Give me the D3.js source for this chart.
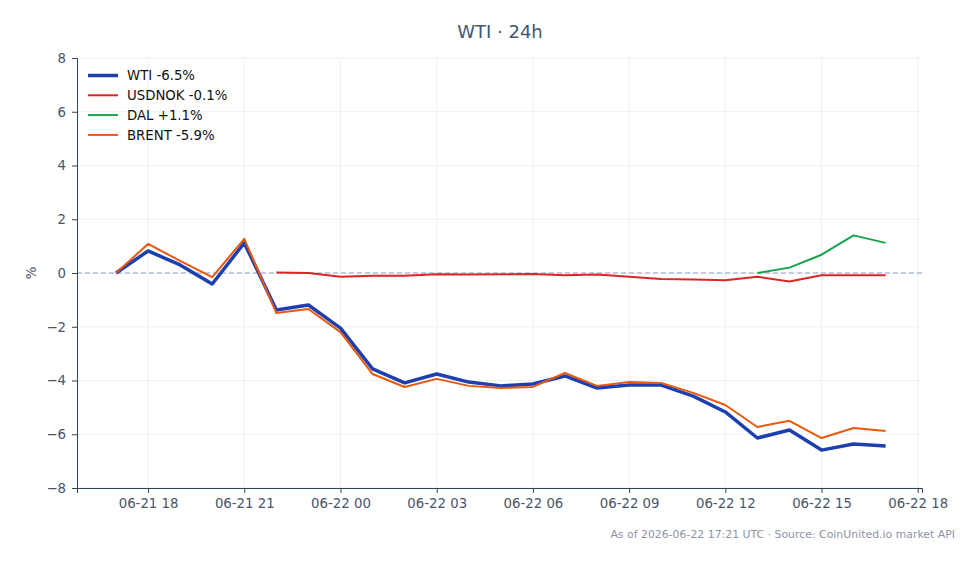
<!DOCTYPE html>
<html>
<head>
<meta charset="utf-8">
<script src="https://cdn.jsdelivr.net/npm/d3@7"></script>
<style>
  body { margin: 0; background: #fff; }
  svg text { font-family: "DejaVu Sans", sans-serif; }
</style>
</head>
<body>
<svg id="chart" width="979" height="564"></svg>
<script>
// Hourly points, 06-21 17:00 -> 06-22 17:00 (UTC)
const hours = d3.range(25).map(i => new Date(Date.UTC(2026, 5, 21, 17 + i)));

const wti = [0, 0.82, 0.3, -0.41, 1.12, -1.38, -1.19, -2.05, -3.57, -4.09, -3.76, -4.06, -4.2,
    -4.13, -3.83, -4.28, -4.17, -4.17, -4.58, -5.17, -6.14, -5.84, -6.59, -6.36, -6.44];
const brent = [0, 1.08, 0.45, -0.15, 1.27, -1.49, -1.34, -2.2, -3.76, -4.24, -3.94, -4.2, -4.28,
    -4.24, -3.72, -4.2, -4.06, -4.09, -4.46, -4.91, -5.73, -5.5, -6.14, -5.77, -5.88];
// USDNOK starts at 22:00, DAL at 13:00
const usdnok = [0.02, 0, -0.14, -0.1, -0.1, -0.05, -0.06, -0.05, -0.04, -0.08, -0.06, -0.14,
    -0.22, -0.24, -0.27, -0.14, -0.32, -0.08, -0.08, -0.08];
const dal = [0, 0.2, 0.68, 1.4, 1.12];

const series = [
    { name: "WTI -6.5%", color: "#1e40af", width: 3.5, values: wti, start: 0 },
    { name: "USDNOK -0.1%", color: "#dc2626", width: 2, values: usdnok, start: 5 },
    { name: "DAL +1.1%", color: "#16a34a", width: 2, values: dal, start: 20 },
    { name: "BRENT -5.9%", color: "#ea580c", width: 2, values: brent, start: 0 }
];
const yTicks = [-8, -6, -4, -2, 0, 2, 4, 6, 8];

const svg = d3.select("#chart");
const margin = { top: 58, right: 57, bottom: 76, left: 77 };
const width = 979 - margin.left - margin.right;
const height = 564 - margin.top - margin.bottom;

const x = d3.scaleUtc()
    .domain([new Date(Date.UTC(2026, 5, 21, 15, 47)), new Date(Date.UTC(2026, 5, 22, 18, 8))])
    .range([0, width]);
const y = d3.scaleLinear().domain([-8, 8]).range([height, 0]);

const g = svg.append("g").attr("transform", `translate(${margin.left},${margin.top})`);

const xTicks = d3.utcHour.every(3).range(new Date(Date.UTC(2026, 5, 21, 18)), new Date(Date.UTC(2026, 5, 22, 19)));
const fmt = d3.utcFormat("%m-%d %H");

// grid
g.append("g").selectAll("line").data(xTicks).join("line")
    .attr("x1", d => x(d)).attr("x2", d => x(d)).attr("y1", 0).attr("y2", height)
    .attr("stroke", "#e8ecf2").attr("stroke-width", 0.8);
g.append("g").selectAll("line").data(yTicks).join("line")
    .attr("x1", 0).attr("x2", width).attr("y1", d => y(d)).attr("y2", d => y(d))
    .attr("stroke", "#e8ecf2").attr("stroke-width", 0.8);

// zero line
g.append("line").attr("x1", 0).attr("x2", width).attr("y1", y(0)).attr("y2", y(0))
    .attr("stroke", "#8da2c0").attr("stroke-width", 1).attr("stroke-dasharray", "5,3");

// axes
const xAxis = g.append("g").attr("transform", `translate(0,${height})`)
    .call(d3.axisBottom(x).tickValues(xTicks).tickFormat(fmt).tickSizeOuter(0).tickSize(5).tickPadding(6));
const yAxis = g.append("g")
    .call(d3.axisLeft(y).tickValues(yTicks).tickFormat(d => d < 0 ? "\u2212" + Math.abs(d) : d).tickSizeOuter(0).tickSize(5).tickPadding(6));
[xAxis, yAxis].forEach(a => {
    a.attr("font-family", null);
    a.selectAll("path, line").attr("stroke", "#334155").attr("stroke-width", 1);
    a.selectAll("text").attr("fill", "#4a5568").style("font-size", "13.3px");
});

// lines
const line = d3.line().x(d => x(d[0])).y(d => y(d[1]));
series.forEach(s => {
    const pts = s.values.map((v, i) => [hours[s.start + i], v]);
    g.append("path").datum(pts)
        .attr("fill", "none").attr("stroke", s.color).attr("stroke-width", s.width)
        .attr("stroke-linejoin", "round").attr("d", line);
});

// legend
const legend = g.append("g").attr("transform", "translate(11,17.5)");
series.forEach((s, i) => {
    const row = legend.append("g").attr("transform", `translate(0,${i * 19.8})`);
    row.append("line").attr("x1", 0).attr("x2", 30).attr("stroke", s.color).attr("stroke-width", s.width);
    row.append("text").attr("x", 39).attr("dy", "0.35em").attr("fill", "#111").style("font-size", "13.3px").text(s.name);
});

// labels
svg.append("text").attr("x", 500).attr("y", 38).attr("text-anchor", "middle")
    .attr("fill", "#475569").style("font-size", "18px").text("WTI \u00b7 24h");
svg.append("text").attr("transform", `translate(36,${margin.top + height / 2}) rotate(-90)`)
    .attr("text-anchor", "middle").attr("fill", "#4a5568").style("font-size", "13.3px").text("%");
svg.append("text").attr("x", 955).attr("y", 538).attr("text-anchor", "end")
    .attr("fill", "#8a94a6").style("font-size", "10.9px")
    .text("As of 2026-06-22 17:21 UTC \u00b7 Source: CoinUnited.io market API");
</script>
</body>
</html>
